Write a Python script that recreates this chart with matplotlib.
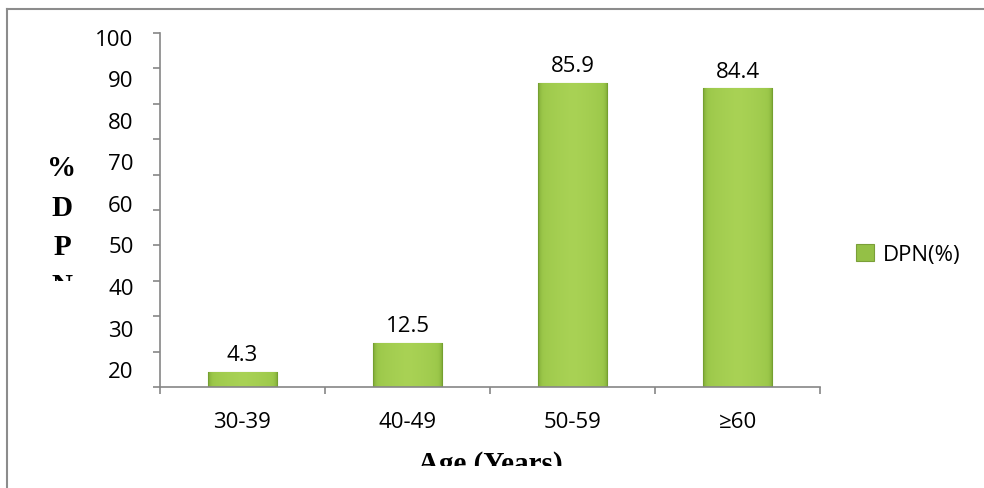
import numpy as np
import matplotlib.pyplot as plt
from matplotlib.patches import Patch
from matplotlib.lines import Line2D
from matplotlib.transforms import Bbox, TransformedBbox
from matplotlib.colors import LinearSegmentedColormap

# data
age_groups = ["30-39", "40-49", "50-59", "≥60"]
dpn_pct = [4.3, 12.5, 85.9, 84.4]
ytick_labels = ["20", "30", "40", "50", "60", "70", "80", "90", "100"]
ylabel_letters = ["%", "D", "P", "N"]
xlabel = "Age (Years)"
series_name = "DPN(%)"

W, H = 984, 488
SANS = ["Open Sans", "DejaVu Sans"]
SERIF = ["Liberation Serif", "DejaVu Serif"]
GRAY = "#868686"
FS = 16

fig = plt.figure(figsize=(W / 100, H / 100), dpi=100)
ax = fig.add_axes([160 / W, 1 - 387 / H, 660 / W, 354 / H])

# bars with a soft bevel-like gradient (dark edges, lighter middle)
green = LinearSegmentedColormap.from_list("g", ["#6f9a2c", "#9cc84a", "#a9d255"])
ramp = np.linspace(0, 1, 80)
grad = np.tile((1 - np.abs(ramp - 0.5) * 2) ** 0.35, (10, 1))
width = 0.42
x = np.arange(len(age_groups))
bars = ax.bar(x, dpn_pct, width=width, color="#94c046", edgecolor="#7a9f38", linewidth=0.8, zorder=2)
for b, v in zip(bars, dpn_pct):
    x0 = b.get_x()
    im = ax.imshow(grad, extent=[x0, x0 + width, 0, v], aspect="auto", cmap=green,
                   vmin=0, vmax=1, zorder=2.5, interpolation="bicubic")
    im.set_clip_path(b)
    ax.annotate(f"{v}", (x0 + width / 2, v), xytext=(0, 4), textcoords="offset points",
                ha="center", va="bottom", fontsize=FS, family=SANS)

ax.set_xlim(-0.5, len(age_groups) - 0.5)
ax.set_ylim(0, 100)

# axes styling
for s in ["top", "right"]:
    ax.spines[s].set_visible(False)
for s in ["left", "bottom"]:
    ax.spines[s].set_color(GRAY)
    ax.spines[s].set_linewidth(1.2)

ax.set_xticks(x)
ax.set_xticklabels(age_groups, fontsize=FS, family=SANS)
ax.set_xticks(np.arange(-0.5, len(age_groups)), minor=True)
ax.tick_params(axis="x", which="major", length=0, pad=18)
ax.tick_params(axis="x", which="minor", length=5, color=GRAY, width=1.2, direction="out")

# y tick labels sit off their tick marks in the reference
ax.set_yticks(np.linspace(4.8, 98.6, len(ytick_labels)))
ax.set_yticklabels(ytick_labels, fontsize=FS, family=SANS)
ax.set_yticks(np.arange(0, 101, 10), minor=True)
ax.tick_params(axis="y", which="major", length=0, pad=19)
ax.tick_params(axis="y", which="minor", length=5, color=GRAY, width=1.2, direction="out")

# clipped axis titles
ylab_clip = TransformedBbox(Bbox.from_extents(0, 1 - 281 / H, 1, 1), fig.transFigure)
for i, letter in enumerate(ylabel_letters):
    t = fig.text(62 / W, 1 - (169 + 39 * i) / H, letter, ha="center", va="center",
                 fontsize=21, fontweight="bold", family=SERIF)
    t.set_clip_box(ylab_clip)
    t.set_clip_on(True)

xlab_clip = TransformedBbox(Bbox.from_extents(0, 1 - 466 / H, 1, 1), fig.transFigure)
t = fig.text(490 / W, 1 - 472 / H, xlabel, ha="center", va="baseline",
             fontsize=21, fontweight="bold", family=SERIF)
t.set_clip_box(xlab_clip)
t.set_clip_on(True)

# legend
handle = Patch(facecolor="#94c046", edgecolor="#7a9f38", linewidth=0.8)
fig.legend([handle], [series_name], loc="center left", bbox_to_anchor=(845 / W, 1 - 255 / H),
           frameon=False, borderpad=0, handlelength=0.8, handleheight=0.8, handletextpad=0.4,
           prop={"family": SANS, "size": FS})

# outer frame (only top and left edges visible)
fig.add_artist(Line2D([7 / W, 1], [1 - 9 / H, 1 - 9 / H], color="#8c8c8c", lw=1.5))
fig.add_artist(Line2D([7 / W, 7 / W], [0, 1 - 9 / H], color="#8c8c8c", lw=1.5))

fig.savefig("out.png", dpi=100)
